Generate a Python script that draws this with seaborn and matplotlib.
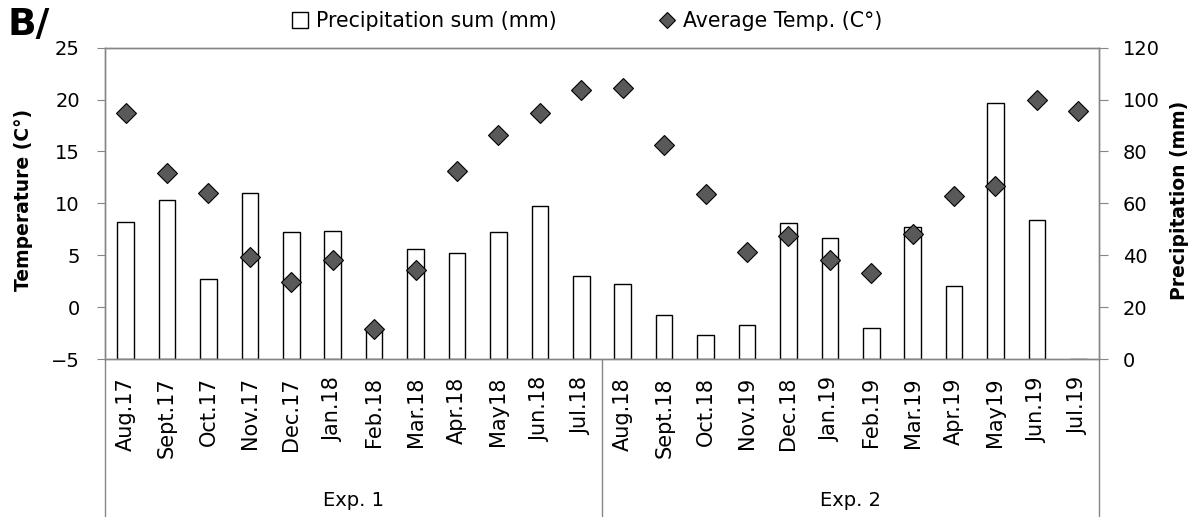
import numpy as np
import pandas as pd
import matplotlib.pyplot as plt
import matplotlib.transforms as mtransforms
import seaborn as sns

# values
months = ['Aug.17', 'Sept.17', 'Oct.17', 'Nov.17', 'Dec.17', 'Jan.18', 'Feb.18', 'Mar.18',
          'Apr.18', 'May18', 'Jun.18', 'Jul.18', 'Aug.18', 'Sept.18', 'Oct.18', 'Nov.19',
          'Dec.18', 'Jan.19', 'Feb.19', 'Mar.19', 'Apr.19', 'May19', 'Jun.19', 'Jul.19']
precip = [52.7, 61.3, 30.7, 63.9, 48.8, 49.3, 11.0, 42.3, 40.9, 48.8, 58.8, 31.9,
          29.0, 16.8, 9.1, 13.1, 52.3, 46.5, 11.9, 50.8, 28.3, 98.5, 53.6, 0.0]
temp = [18.7, 12.9, 11.0, 4.8, 2.4, 4.5, -2.15, 3.6, 13.1, 16.6, 18.7, 20.95,
        21.1, 15.6, 10.9, 5.3, 6.85, 4.5, 3.25, 7.0, 10.7, 11.7, 20.0, 18.9]
groups = ['Exp. 1', 'Exp. 2']
group_sizes = [12, 12]

df = pd.DataFrame({'Month': months, 'Precipitation': precip, 'Temp': temp})

sns.set_style('white')
plt.rcParams['font.family'] = ['DejaVu Sans']
plt.rcParams['text.color'] = 'black'
plt.rcParams['axes.labelcolor'] = 'black'

grey = '#868686'
fig = plt.figure(figsize=(11.98, 5.17), dpi=100)
ax = fig.add_axes([0.0876, 0.3056, 0.8298, 0.6021])
ax2 = ax.twinx()

# precipitation bars on the right axis
sns.barplot(data=df, x='Month', y='Precipitation', order=months, ax=ax2,
            color='white', edgecolor='black', linewidth=1, width=0.4,
            saturation=1, label='Precipitation sum (mm)')

# temperature diamonds on the left axis, drawn above the bars
sns.pointplot(data=df, x='Month', y='Temp', order=months, ax=ax,
              linestyle='none', marker='D', color='#595959', markersize=9.9,
              markeredgecolor='black', markeredgewidth=0.8,
              label='Average Temp. (C°)')
ax.set_zorder(ax2.get_zorder() + 1)
ax.patch.set_visible(False)

for a in (ax, ax2):
    if a.get_legend() is not None:
        a.get_legend().remove()
    for s in a.spines.values():
        s.set_color(grey)
        s.set_linewidth(1)

ax.set_ylim(-5, 25)
ax.set_yticks(range(-5, 26, 5))
ax2.set_ylim(0, 120)
ax2.set_yticks(range(0, 121, 20))
ax.set_xlim(-0.5, len(months) - 0.5)

ax.tick_params(axis='y', left=True, length=6, color=grey, labelcolor='black',
               pad=12, labelsize=14)
ax2.tick_params(axis='y', right=True, length=6.5, color=grey, labelcolor='black',
                pad=10.5, labelsize=14)
ax.set_xticks(range(len(months)))
ax.set_xticklabels(months, rotation=90, fontsize=15)
ax.tick_params(axis='x', length=0, pad=13, labelcolor='black')
ax.set_xlabel('')
ax2.set_xlabel('')

ax.set_ylabel('Temperature (C°)', fontsize=13.5, fontweight='bold')
ax.yaxis.set_label_coords(-0.0724, 0.511)
ax2.set_ylabel('Precipitation (mm)', fontsize=13.5, fontweight='bold')
ax2.yaxis.set_label_coords(1.0714, 0.508)

# two-level category axis: group separators and group names
trans = mtransforms.blended_transform_factory(ax.transData, ax.transAxes)
edges = np.concatenate([[0], np.cumsum(group_sizes)]) - 0.5
for x in edges:
    ax.axvline(x, ymin=-0.51, ymax=0, clip_on=False, color=grey, lw=1)
for name, lo, hi in zip(groups, edges[:-1], edges[1:]):
    ax.text((lo + hi) / 2, -0.472, name, transform=trans, ha='center', va='baseline',
            fontsize=14)

h1, l1 = ax2.get_legend_handles_labels()
h2, l2 = ax.get_legend_handles_labels()
fig.legend(h1 + h2, l1 + l2, loc='center', bbox_to_anchor=(0.4904, 0.959), ncol=2,
           frameon=False, fontsize=14.8, handlelength=0.75, handleheight=0.75,
           handletextpad=0.4, columnspacing=5.0, markerscale=0.8,
           borderpad=0, borderaxespad=0)

fig.text(0.006, 0.952, 'B/', fontsize=27, fontweight='bold', va='center')

fig.savefig('out.png', dpi=100)
